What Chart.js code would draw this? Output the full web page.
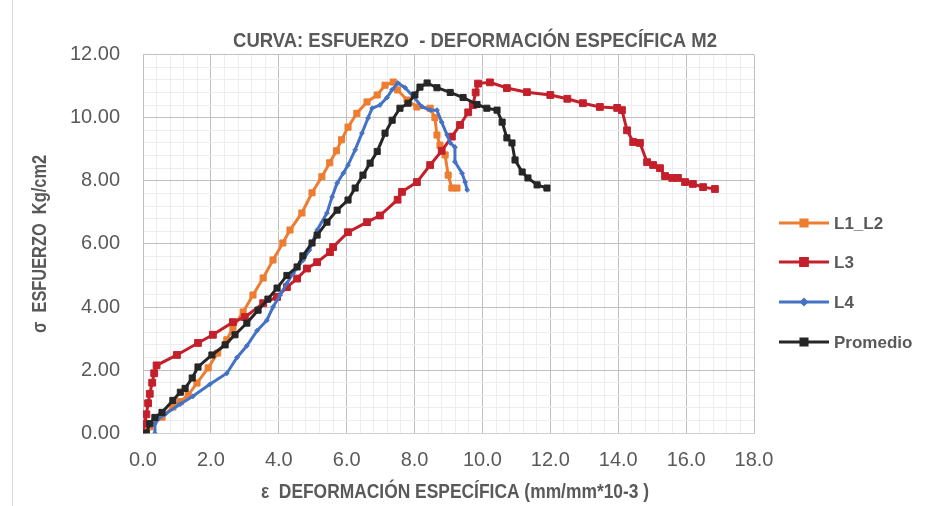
<!DOCTYPE html>
<html>
<head>
<meta charset="utf-8">
<script src="https://cdn.jsdelivr.net/npm/chart.js@4.4.1/dist/chart.umd.min.js"></script>
<style>
  html, body { margin: 0; padding: 0; background: #ffffff; }
  #wrap { width: 930px; height: 506px; position: relative; }
</style>
</head>
<body>
<div id="wrap"><canvas id="c" width="930" height="506"></canvas></div>
<script>
// Strain (mm/mm*10-3) and stress (Kg/cm2) readings for each specimen
const l1l2X = [0, 0.2, 0.56, 0.88, 1.1, 1.33, 1.59, 1.92, 2.2, 2.47, 2.65, 2.95, 3.24, 3.54, 3.83, 4.12, 4.33, 4.68, 4.98, 5.27, 5.5, 5.7, 5.85, 6.04, 6.3, 6.6, 6.9, 7.13, 7.37, 7.5, 7.78, 8.07, 8.46, 8.6, 8.66, 8.75, 8.9, 8.99, 9.1, 9.25];
const l1l2Y = [0, 0.2, 0.51, 0.83, 1.0, 1.21, 1.59, 2.07, 2.54, 2.96, 3.34, 3.84, 4.38, 4.92, 5.49, 6.03, 6.44, 6.98, 7.62, 8.13, 8.57, 8.95, 9.3, 9.7, 10.14, 10.5, 10.72, 11.03, 11.13, 10.88, 10.56, 10.34, 10.3, 10.0, 9.45, 9.13, 8.82, 8.18, 7.77, 7.77];

const l3X = [0, 0.05, 0.1, 0.15, 0.2, 0.27, 0.33, 0.4, 1.0, 1.62, 2.06, 2.65, 3.0, 3.54, 3.95, 4.24, 4.54, 4.83, 5.13, 5.51, 5.6, 6.04, 6.6, 6.98, 7.5, 7.63, 8.07, 8.46, 8.8, 9.1, 9.34, 9.58, 9.72, 9.8, 9.87, 10.22, 10.72, 11.31, 12.0, 12.5, 12.96, 13.46, 13.97, 14.11, 14.26, 14.44, 14.64, 14.85, 15.03, 15.23, 15.38, 15.59, 15.76, 15.97, 16.2, 16.5, 16.85];
const l3Y = [0, 0.3, 0.6, 0.95, 1.25, 1.6, 1.9, 2.15, 2.48, 2.86, 3.12, 3.52, 3.68, 4.12, 4.32, 4.63, 4.9, 5.22, 5.42, 5.74, 5.9, 6.37, 6.69, 6.9, 7.4, 7.65, 7.96, 8.5, 8.95, 9.4, 9.77, 10.17, 10.4, 10.8, 11.08, 11.12, 10.94, 10.81, 10.72, 10.6, 10.46, 10.34, 10.31, 10.24, 9.6, 9.23, 9.2, 8.59, 8.5, 8.4, 8.15, 8.09, 8.09, 7.96, 7.9, 7.8, 7.74];

const l4X = [0.35, 0.35, 0.44, 0.65, 1.09, 1.47, 1.97, 2.47, 2.77, 3.06, 3.36, 3.65, 3.83, 4.04, 4.24, 4.42, 4.71, 4.9, 5.13, 5.42, 5.57, 5.72, 5.9, 6.04, 6.25, 6.45, 6.63, 6.75, 6.98, 7.19, 7.34, 7.51, 7.72, 7.96, 8.22, 8.46, 8.66, 8.8, 8.96, 9.05, 9.19, 9.19, 9.4, 9.49, 9.55];
const l4Y = [0, 0.3, 0.45, 0.6, 0.92, 1.17, 1.55, 1.9, 2.4, 2.77, 3.25, 3.58, 4.0, 4.38, 4.75, 5.07, 5.48, 5.8, 6.44, 6.98, 7.49, 7.93, 8.24, 8.5, 8.98, 9.51, 9.99, 10.3, 10.4, 10.64, 10.89, 11.1, 10.95, 10.67, 10.35, 10.24, 10.24, 9.86, 9.45, 9.2, 9.07, 8.6, 8.24, 7.96, 7.71];

const promX = [0.1, 0.2, 0.35, 0.56, 0.88, 1.1, 1.24, 1.45, 1.62, 2.03, 2.42, 2.71, 3.06, 3.39, 3.68, 3.95, 4.24, 4.54, 4.71, 4.98, 5.13, 5.42, 5.72, 6.04, 6.25, 6.48, 6.69, 6.9, 7.13, 7.34, 7.57, 7.81, 8.01, 8.16, 8.37, 8.66, 9.05, 9.43, 9.84, 10.13, 10.43, 10.58, 10.72, 10.87, 10.96, 11.17, 11.34, 11.61, 11.9];
const promY = [0, 0.3, 0.5, 0.66, 1.04, 1.3, 1.42, 1.75, 2.1, 2.48, 2.8, 3.12, 3.49, 3.9, 4.25, 4.6, 5.0, 5.27, 5.62, 6.03, 6.28, 6.69, 7.07, 7.39, 7.77, 8.18, 8.56, 8.93, 9.51, 9.92, 10.3, 10.46, 10.72, 10.97, 11.1, 10.95, 10.8, 10.64, 10.42, 10.3, 10.24, 9.86, 9.36, 9.2, 8.66, 8.28, 8.09, 7.87, 7.77];

const seriesNames = ['L1_L2', 'L3', 'L4', 'Promedio'];
const xTickLabels = ['0.0', '2.0', '4.0', '6.0', '8.0', '10.0', '12.0', '14.0', '16.0', '18.0'];
const yTickLabels = ['0.00', '2.00', '4.00', '6.00', '8.00', '10.00', '12.00'];

const chartTitle = 'CURVA: ESFUERZO  - DEFORMACIÓN ESPECÍFICA M2';
const xTitle = 'ε  DEFORMACIÓN ESPECÍFICA (mm/mm*10-3 )';
const yTitle = 'σ  ESFUERZO  Kg/cm2';

const SANS = "'Liberation Sans', Arial, sans-serif";
const TEXT = '#595959';

const pts = (xs, ys) => xs.map((x, i) => ({ x: x, y: ys[i] }));
const isMajor = v => Math.abs(v / 2 - Math.round(v / 2)) < 1e-6;
const majorIndex = v => Math.round(v / 2);

const styles = [
  { color: '#ED7D31', style: 'rect', radius: 4.3 },
  { color: '#C3202B', style: 'rect', radius: 4.8 },
  { color: '#4472C4', style: 'rectRot', radius: 2.4 },
  { color: '#262626', style: 'rect', radius: 4.3 }
];
const series = [pts(l1l2X, l1l2Y), pts(l3X, l3Y), pts(l4X, l4Y), pts(promX, promY)];

const datasets = series.map((data, i) => ({
  label: seriesNames[i],
  data: data,
  showLine: true,
  borderColor: styles[i].color,
  backgroundColor: styles[i].color,
  borderWidth: 3,
  pointStyle: styles[i].style,
  pointRadius: styles[i].radius,
  pointBorderWidth: 1,
  pointBackgroundColor: styles[i].color,
  pointBorderColor: styles[i].color,
  order: 3 - i
}));

// Condensed bold text: the regular face squeezed horizontally
function narrowText(ctx, text, x, y, size, squeeze, angle) {
  ctx.save();
  ctx.translate(x, y);
  if (angle) ctx.rotate(angle);
  ctx.scale(squeeze, 1);
  ctx.font = 'bold ' + size + 'px ' + SANS;
  ctx.textAlign = 'center';
  ctx.textBaseline = 'middle';
  ctx.fillStyle = TEXT;
  ctx.fillText(text, 0, 0);
  ctx.restore();
}

// Titles and the series key on the right
const decorations = {
  id: 'decorations',
  afterDraw(chart) {
    const ctx = chart.ctx;
    const area = chart.chartArea;
    narrowText(ctx, chartTitle, 475, 41, 21, 0.88, 0);
    narrowText(ctx, xTitle, 455, 492, 20, 0.87, 0);
    narrowText(ctx, yTitle, 40, (area.top + area.bottom) / 2, 20, 0.82, -Math.PI / 2);

    ctx.save();
    const rows = [223, 262, 302, 342];
    chart.data.datasets.forEach((ds, i) => {
      const y = rows[i];
      ctx.strokeStyle = ds.borderColor;
      ctx.lineWidth = 3;
      ctx.beginPath();
      ctx.moveTo(779, y);
      ctx.lineTo(829, y);
      ctx.stroke();
      ctx.fillStyle = ds.borderColor;
      Chart.helpers.drawPoint(ctx, {
        pointStyle: ds.pointStyle,
        radius: ds.pointRadius,
        rotation: 0,
        borderWidth: 1
      }, 804, y);
      ctx.fillStyle = TEXT;
      ctx.textAlign = 'left';
      ctx.textBaseline = 'middle';
      ctx.font = 'bold 17px ' + SANS;
      ctx.fillText(ds.label, 834, y + 1);
    });

    ctx.strokeStyle = '#D9D9D9';
    ctx.lineWidth = 1;
    ctx.beginPath();
    ctx.moveTo(12.5, 0);
    ctx.lineTo(12.5, 506);
    ctx.stroke();
    ctx.restore();
  }
};

new Chart(document.getElementById('c'), {
  type: 'scatter',
  data: { datasets: datasets },
  plugins: [decorations],
  options: {
    responsive: false,
    animation: false,
    devicePixelRatio: 1,
    layout: { padding: { left: 0, right: 176, top: 54.6, bottom: 0 } },
    plugins: {
      legend: { display: false },
      title: { display: false },
      tooltip: { enabled: false }
    },
    scales: {
      x: {
        type: 'linear',
        min: 0,
        max: 18,
        afterFit: s => { s.height = 72.8; },
        ticks: {
          stepSize: 0.4,
          autoSkip: false,
          maxRotation: 0,
          padding: 15,
          color: TEXT,
          font: { family: SANS, size: 20 },
          callback: v => isMajor(v) ? xTickLabels[majorIndex(v)] : ''
        },
        grid: {
          drawTicks: false,
          lineWidth: 1,
          color: c => isMajor(c.tick.value) ? '#BFBFBF' : '#EDEDED'
        },
        border: { display: true, color: '#D0D0D0', width: 1 }
      },
      y: {
        type: 'linear',
        min: 0,
        max: 12,
        afterFit: s => { s.width = 143; },
        ticks: {
          stepSize: 0.4,
          autoSkip: false,
          padding: 23,
          color: TEXT,
          font: { family: SANS, size: 20 },
          callback: v => isMajor(v) ? yTickLabels[majorIndex(v)] : ''
        },
        grid: {
          drawTicks: false,
          lineWidth: 1,
          color: c => isMajor(c.tick.value) ? '#BFBFBF' : '#EDEDED'
        },
        border: { display: true, color: '#BFBFBF', width: 1 }
      }
    }
  }
});
</script>
</body>
</html>
